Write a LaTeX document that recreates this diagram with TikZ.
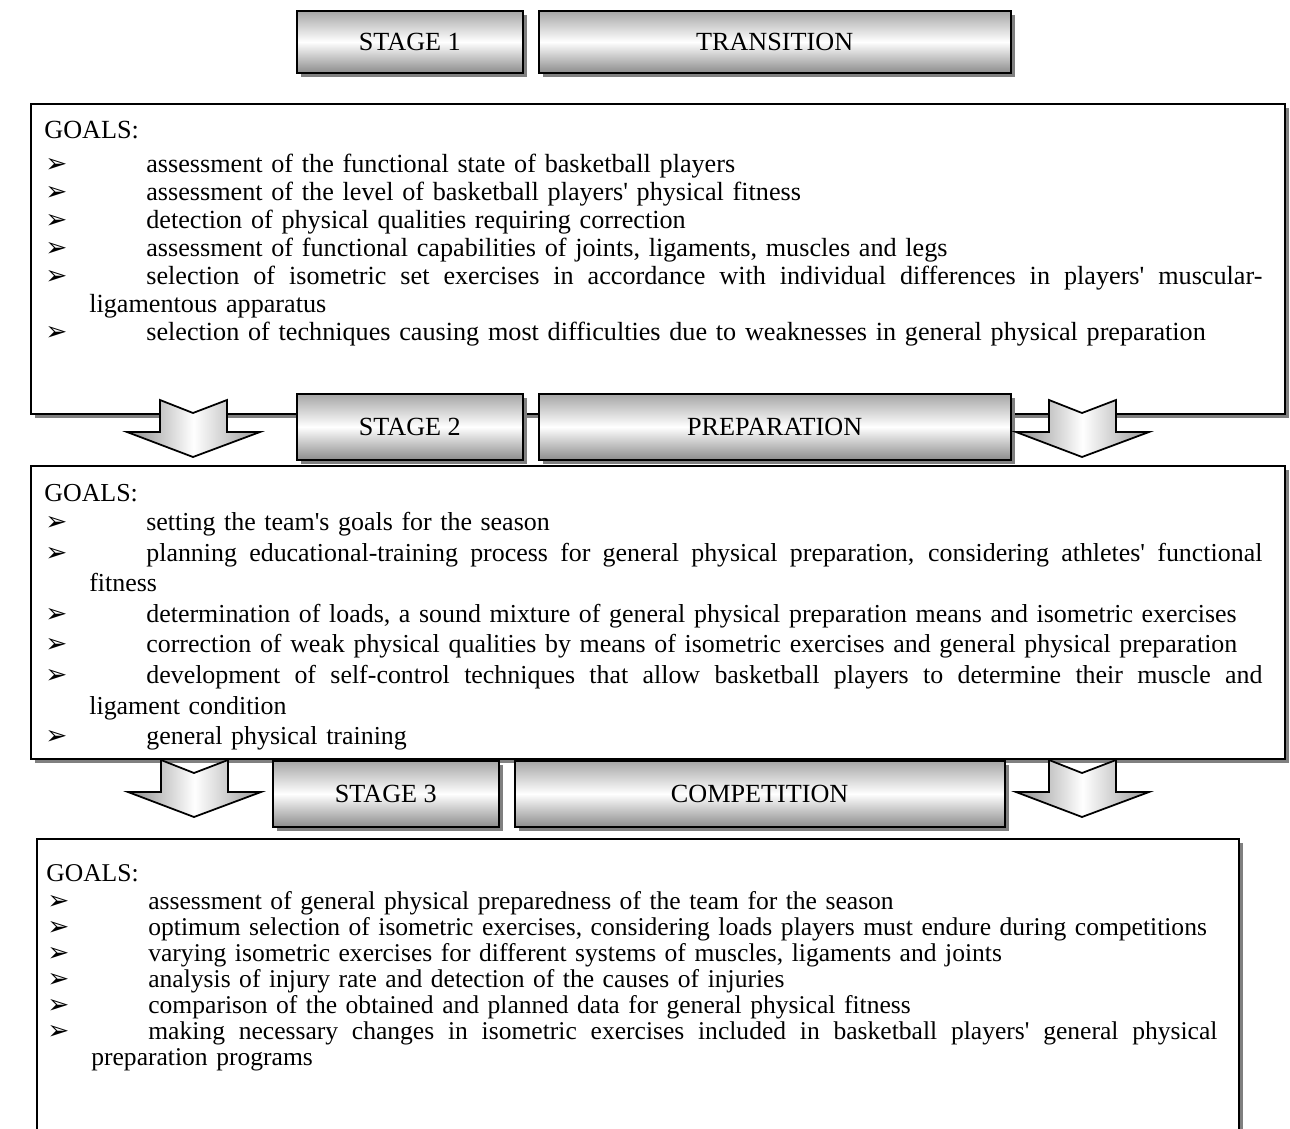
\documentclass[tikz,border=0pt]{standalone}
\usepackage{fontspec}
\setmainfont{Liberation Serif}
\newfontfamily\dingfont{DejaVu Sans}
\usetikzlibrary{shadows, positioning}
\newdimen\px \px=0.02cm
\hbadness=10000 \hfuzz=200pt
\newcommand{\bul}{{\dingfont\fontsize{15}{15}\selectfont\char"27A2}}
\newcommand{\q}{\textquotesingle}
\newcommand{\gitem}[1]{\par\noindent\makebox[102\px][l]{\hspace{1\px}\bul}\mbox{#1}}
\newcommand{\gjust}[2]{\par\noindent\hbox to #1{\spaceskip=0pt\makebox[102\px][l]{\hspace{1\px}\bul}#2}}
\newcommand{\gcont}[1]{\par\noindent\hspace*{45\px}\mbox{#1}}
\tikzset{
	stagebox/.style={rectangle, draw=black, line width=1pt, top color=black!35, bottom color=black!45, middle color=white, inner sep=0pt, font=\fontsize{14.9}{17}\selectfont, drop shadow={shadow xshift=2.3pt, shadow yshift=-2.3pt, opacity=1, fill=black!50}},
	panel/.style={rectangle, draw=black, line width=1pt, fill=white, anchor=north west, inner sep=0pt, drop shadow={shadow xshift=2.3pt, shadow yshift=-2.3pt, opacity=1, fill=black!50}},
	goaltext/.style={anchor=base west, inner sep=0pt},
	downarrow/.pic={
		\path[draw=black, line width=1pt, left color=black!45, right color=black!40, middle color=white]
			(-33,0) -- (0,13) -- (34,0) -- (34,32) -- (67,32) -- (0,57) -- (-66,32) -- (-33,32) -- cycle;
	},
}

\begin{document}
\begin{tikzpicture}[x=1\px, y=-1\px]
	\useasboundingbox (0,0) rectangle (1290,1128);
	% panels
	\node[panel, minimum width=1254\px, minimum height=310\px] (b1) at (30,103) {};
	\node[panel, minimum width=1254\px, minimum height=293\px] (b2) at (30,465) {};
	\node[panel, minimum width=1202\px, minimum height=330\px] (b3) at (36,838) {};
	% stage headers
	\node[stagebox, anchor=north west, minimum width=226\px, minimum height=62\px] (st1) at (296,10) {STAGE 1};
	\node[stagebox, minimum width=472\px, minimum height=62\px, right=14\px of st1] (ph1) {TRANSITION};
	\node[stagebox, anchor=north west, minimum width=226\px, minimum height=66\px] (st2) at (296,393) {STAGE 2};
	\node[stagebox, minimum width=472\px, minimum height=66\px, right=14\px of st2] (ph2) {PREPARATION};
	\node[stagebox, anchor=north west, minimum width=226\px, minimum height=66\px] (st3) at (272,760) {STAGE 3};
	\node[stagebox, minimum width=490\px, minimum height=66\px, right=14\px of st3] (ph3) {COMPETITION};
	% arrows between stages
	\pic at (193,400) {downarrow};
	\pic at (1082,400) {downarrow};
	\pic at (194,760) {downarrow};
	\pic at (1082,760) {downarrow};
	% goals
	\node[goaltext, text width=1218\px, font=\fontsize{14.9}{15.93}\selectfont] (t1) at (44,139) {GOALS:\par\vspace{6\px}
		\gitem{assessment of the functional state of basketball players}
		\gitem{assessment of the level of basketball players\q{} physical fitness}
		\gitem{detection of physical qualities requiring correction}
		\gitem{assessment of functional capabilities of joints, ligaments, muscles and legs}
		\gjust{1218\px}{selection of isometric set exercises in accordance with individual differences in players\q{} muscular-}
		\gcont{ligamentous apparatus}
		\gitem{selection of techniques causing most difficulties due to weaknesses in general physical preparation}};
	\node[goaltext, text width=1218\px, font=\fontsize{14.75}{17.41}\selectfont] (t2) at (44,501) {GOALS:\par\vspace{-1\px}
		\gitem{setting the team\q{}s goals for the season}
		\gjust{1218\px}{planning educational-training process for general physical preparation, considering athletes\q{} functional}
		\gcont{fitness}
		\gitem{determination of loads, a sound mixture of general physical preparation means and isometric exercises}
		\gitem{correction of weak physical qualities by means of isometric exercises and general physical preparation}
		\gjust{1218\px}{development of self-control techniques that allow basketball players to determine their muscle and}
		\gcont{ligament condition}
		\gitem{general physical training}};
	\node[goaltext, text width=1171\px, font=\fontsize{14.55}{14.79}\selectfont] (t3) at (46,881) {GOALS:\par\vspace{3\px}
		\gitem{assessment of general physical preparedness of the team for the season}
		\gitem{optimum selection of isometric exercises, considering loads players must endure during competitions}
		\gitem{varying isometric exercises for different systems of muscles, ligaments and joints}
		\gitem{analysis of injury rate and detection of the causes of injuries}
		\gitem{comparison of the obtained and planned data for general physical fitness}
		\gjust{1171\px}{making necessary changes in isometric exercises included in basketball players\q{} general physical}
		\gcont{preparation programs}};
\end{tikzpicture}
\end{document}
